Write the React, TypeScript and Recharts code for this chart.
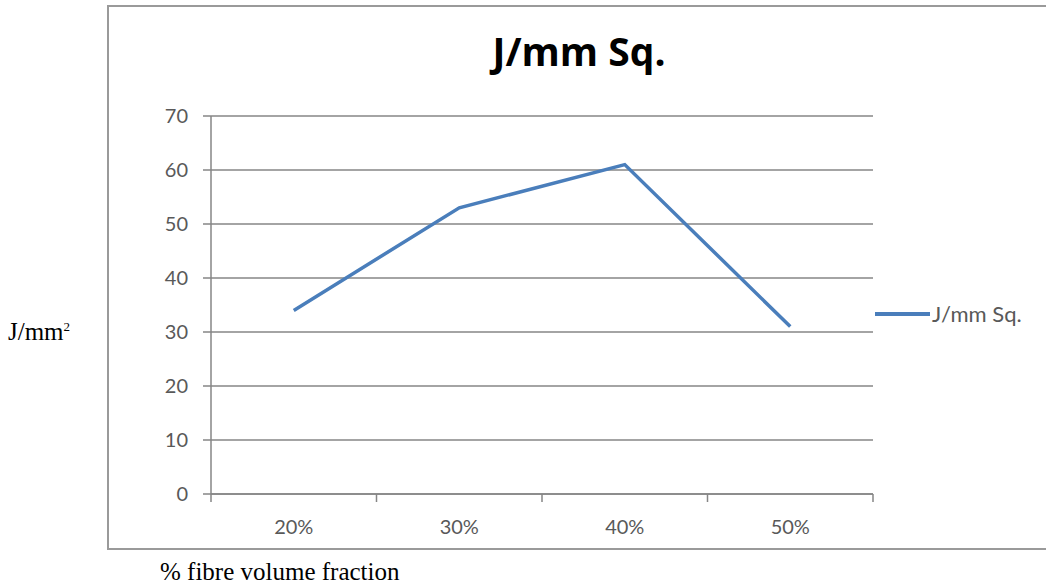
import { LineChart, Line, XAxis, YAxis, CartesianGrid } from 'recharts';

const fractions = ['20%', '30%', '40%', '50%'];
const energy = [34, 53, 61, 31];
const yTicks = [0, 10, 20, 30, 40, 50, 60, 70];
const seriesName = 'J/mm Sq.';

// categories sit in the middle of their bands; tick marks go on the band edges
const data = fractions.map((f, i) => ({ pos: i + 0.5, fraction: f, energy: energy[i] }));
const bandEdges = fractions.map((_, i) => i).concat(fractions.length);

const LINE_BLUE = '#4A7EBB';
const AXIS_GRAY = '#868686';
const LABEL_GRAY = '#595959';
const HALF_BAND = 82.75;

function CategoryTick({ x, y, payload }: any) {
  const label = fractions[payload.value];
  if (!label) return null;
  return (
    <text
      x={x + HALF_BAND}
      y={y + 30}
      textAnchor="middle"
      fill={LABEL_GRAY}
      fontSize={20}
      fontFamily="Lato, sans-serif"
    >
      {label}
    </text>
  );
}

export default function App() {
  return (
    <div style={{ position: 'absolute', left: 0, top: 0, width: 1046, height: 587, background: '#fff', overflow: 'hidden' }}>
      <div
        style={{
          position: 'absolute',
          left: 379,
          top: 24,
          width: 400,
          textAlign: 'center',
          fontFamily: '"Open Sans", sans-serif',
          fontWeight: 700,
          fontSize: 39,
          color: '#000',
        }}
      >
        {seriesName}
      </div>
      <LineChart
        width={1046}
        height={587}
        data={data}
        margin={{ top: 116, right: 173, bottom: 63, left: 151 }}
        style={{ position: 'absolute', left: 0, top: 0 }}
      >
        <CartesianGrid vertical={false} stroke={AXIS_GRAY} strokeWidth={1.5} />
        <XAxis
          dataKey="pos"
          type="number"
          domain={[0, fractions.length]}
          ticks={bandEdges}
          height={30}
          stroke={AXIS_GRAY}
          strokeWidth={1.5}
          tickSize={8}
          tick={<CategoryTick />}
          interval={0}
        />
        <YAxis
          width={60}
          domain={[0, 70]}
          ticks={yTicks}
          stroke={AXIS_GRAY}
          strokeWidth={1.5}
          tickSize={8}
          tick={{ fill: LABEL_GRAY, fontSize: 20, fontFamily: 'Lato, sans-serif', dx: -13 }}
        />
        <Line
          type="linear"
          dataKey="energy"
          name={seriesName}
          stroke={LINE_BLUE}
          strokeWidth={3.5}
          dot={false}
          isAnimationActive={false}
        />
      </LineChart>
      {/* legend */}
      <div
        style={{
          position: 'absolute',
          left: 875,
          top: 300,
          display: 'flex',
          alignItems: 'center',
          fontFamily: 'Lato, sans-serif',
          fontSize: 22,
          color: LABEL_GRAY,
        }}
      >
        <div style={{ width: 55, height: 4, background: LINE_BLUE, marginRight: 2 }} />
        <span>{seriesName}</span>
      </div>
      {/* chart frame */}
      <div
        style={{
          position: 'absolute',
          left: 107,
          top: 5,
          width: 1000,
          height: 541,
          border: '2px solid #9a9a9a',
          pointerEvents: 'none',
        }}
      />
      <div
        style={{
          position: 'absolute',
          left: 8,
          top: 318,
          fontFamily: '"Liberation Serif", serif',
          fontSize: 25,
          color: '#000',
        }}
      >
        J/mm<sup style={{ fontSize: 13 }}>2</sup>
      </div>
      <div
        style={{
          position: 'absolute',
          left: 160,
          top: 558,
          fontFamily: '"Liberation Serif", serif',
          fontSize: 25,
          color: '#000',
        }}
      >
        % fibre volume fraction
      </div>
    </div>
  );
}
